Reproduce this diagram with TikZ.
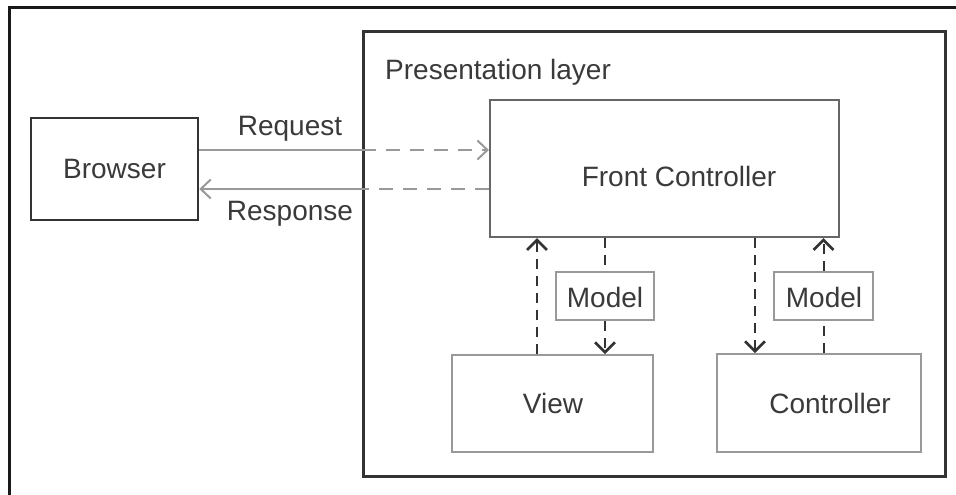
\documentclass[tikz,border=0pt]{standalone}
\usepackage{fontspec}
\setmainfont{Liberation Sans}
\usetikzlibrary{arrows.meta}
\definecolor{ink}{HTML}{333333}
\definecolor{midgray}{HTML}{666666}
\definecolor{ltgray}{HTML}{999999}
\definecolor{txt}{HTML}{3A3A3A}
\tikzset{
  box/.style={draw, rectangle, inner sep=0pt, text=txt, font=\fontsize{28}{34}\selectfont},
  label/.style={inner sep=0pt, text=txt, font=\fontsize{28}{34}\selectfont},
  reqline/.style={draw=ltgray, line width=2pt},
  reqdash/.style={draw=ltgray, line width=2pt, dash pattern=on 14pt off 10pt},
  vdash/.style={draw=ink, line width=2pt, dash pattern=on 10pt off 7pt},
  vtip/.style={-{Straight Barb[length=10pt,width=20pt,line width=2.6pt]}},
  gtip/.style={-{Straight Barb[length=10pt,width=19pt,line width=2pt]}},
}
\begin{document}
\begin{tikzpicture}[x=1pt,y=-1pt]
\useasboundingbox (0,0) rectangle (956,495);
\fill[white] (0,0) rectangle (956,495);
% outer frame (only left and top edges visible)
\draw[draw=black!90, line width=3pt] (9,500) -- (9,8) -- (960,8);
% presentation layer
\node[box, draw=ink, line width=3pt, minimum width=582pt, minimum height=444pt] (pres) at (654,254) {};
\node[label, anchor=base west] (prestxt) at (385,80) {Presentation layer};
% browser
\node[box, draw=ink, line width=2.6pt, minimum width=167pt, minimum height=102pt] (browser) at (114.5,169) {Browser};
% front controller
\node[box, draw=midgray, line width=2.2pt, minimum width=349pt, minimum height=137pt] (fc) at (664.5,168.5) {};
\node[label, anchor=base] (fctxt) at (679,186) {Front Controller};
% view, controller
\node[box, draw=ltgray, line width=1.8pt, minimum width=201pt, minimum height=97pt] (view) at (552.5,403.5) {};
\node[label, anchor=base] (viewtxt) at (553,413) {View};
\node[box, draw=ltgray, line width=1.8pt, minimum width=204pt, minimum height=98pt] (ctrl) at (819,403) {};
\node[label, anchor=base] (ctrltxt) at (830,413) {Controller};
% models
\node[box, draw=ltgray, line width=1.8pt, minimum width=98pt, minimum height=48pt] (m1) at (605,296) {};
\node[label, anchor=base] (m1txt) at (605,307) {Model};
\node[box, draw=ltgray, line width=1.8pt, minimum width=99pt, minimum height=48pt] (m2) at (823.5,296) {};
\node[label, anchor=base] (m2txt) at (824,307) {Model};
% request / response
\coordinate (ry) at (0,150);
\coordinate (sy) at (0,189);
\path[reqline] (browser.east |- ry) -- (pres.west |- ry);
\path[reqdash, gtip] (pres.west |- ry) -- (fc.west |- ry);
\path[reqdash] (fc.west |- sy) -- (pres.west |- sy);
\path[reqline, gtip] (pres.west |- sy) -- (browser.east |- sy);
\node[label, anchor=base] (reqtxt) at (290,135) {Request};
\node[label, anchor=base] (restxt) at (290,220) {Response};
% vertical flows
\coordinate (xa) at (537,0);
\coordinate (xb) at (755,0);
\path[vdash, vtip] (view.north -| xa) -- (fc.south -| xa);
\path[vdash] (fc.south -| m1) -- (m1.north);
\path[vdash, vtip] (m1.south) -- (view.north -| m1);
\path[vdash, vtip] (fc.south -| xb) -- (ctrl.north -| xb);
\path[vdash] (ctrl.north -| m2) -- (m2.south);
\path[vdash, vtip] (m2.north) -- (fc.south -| m2);
\end{tikzpicture}
\end{document}
